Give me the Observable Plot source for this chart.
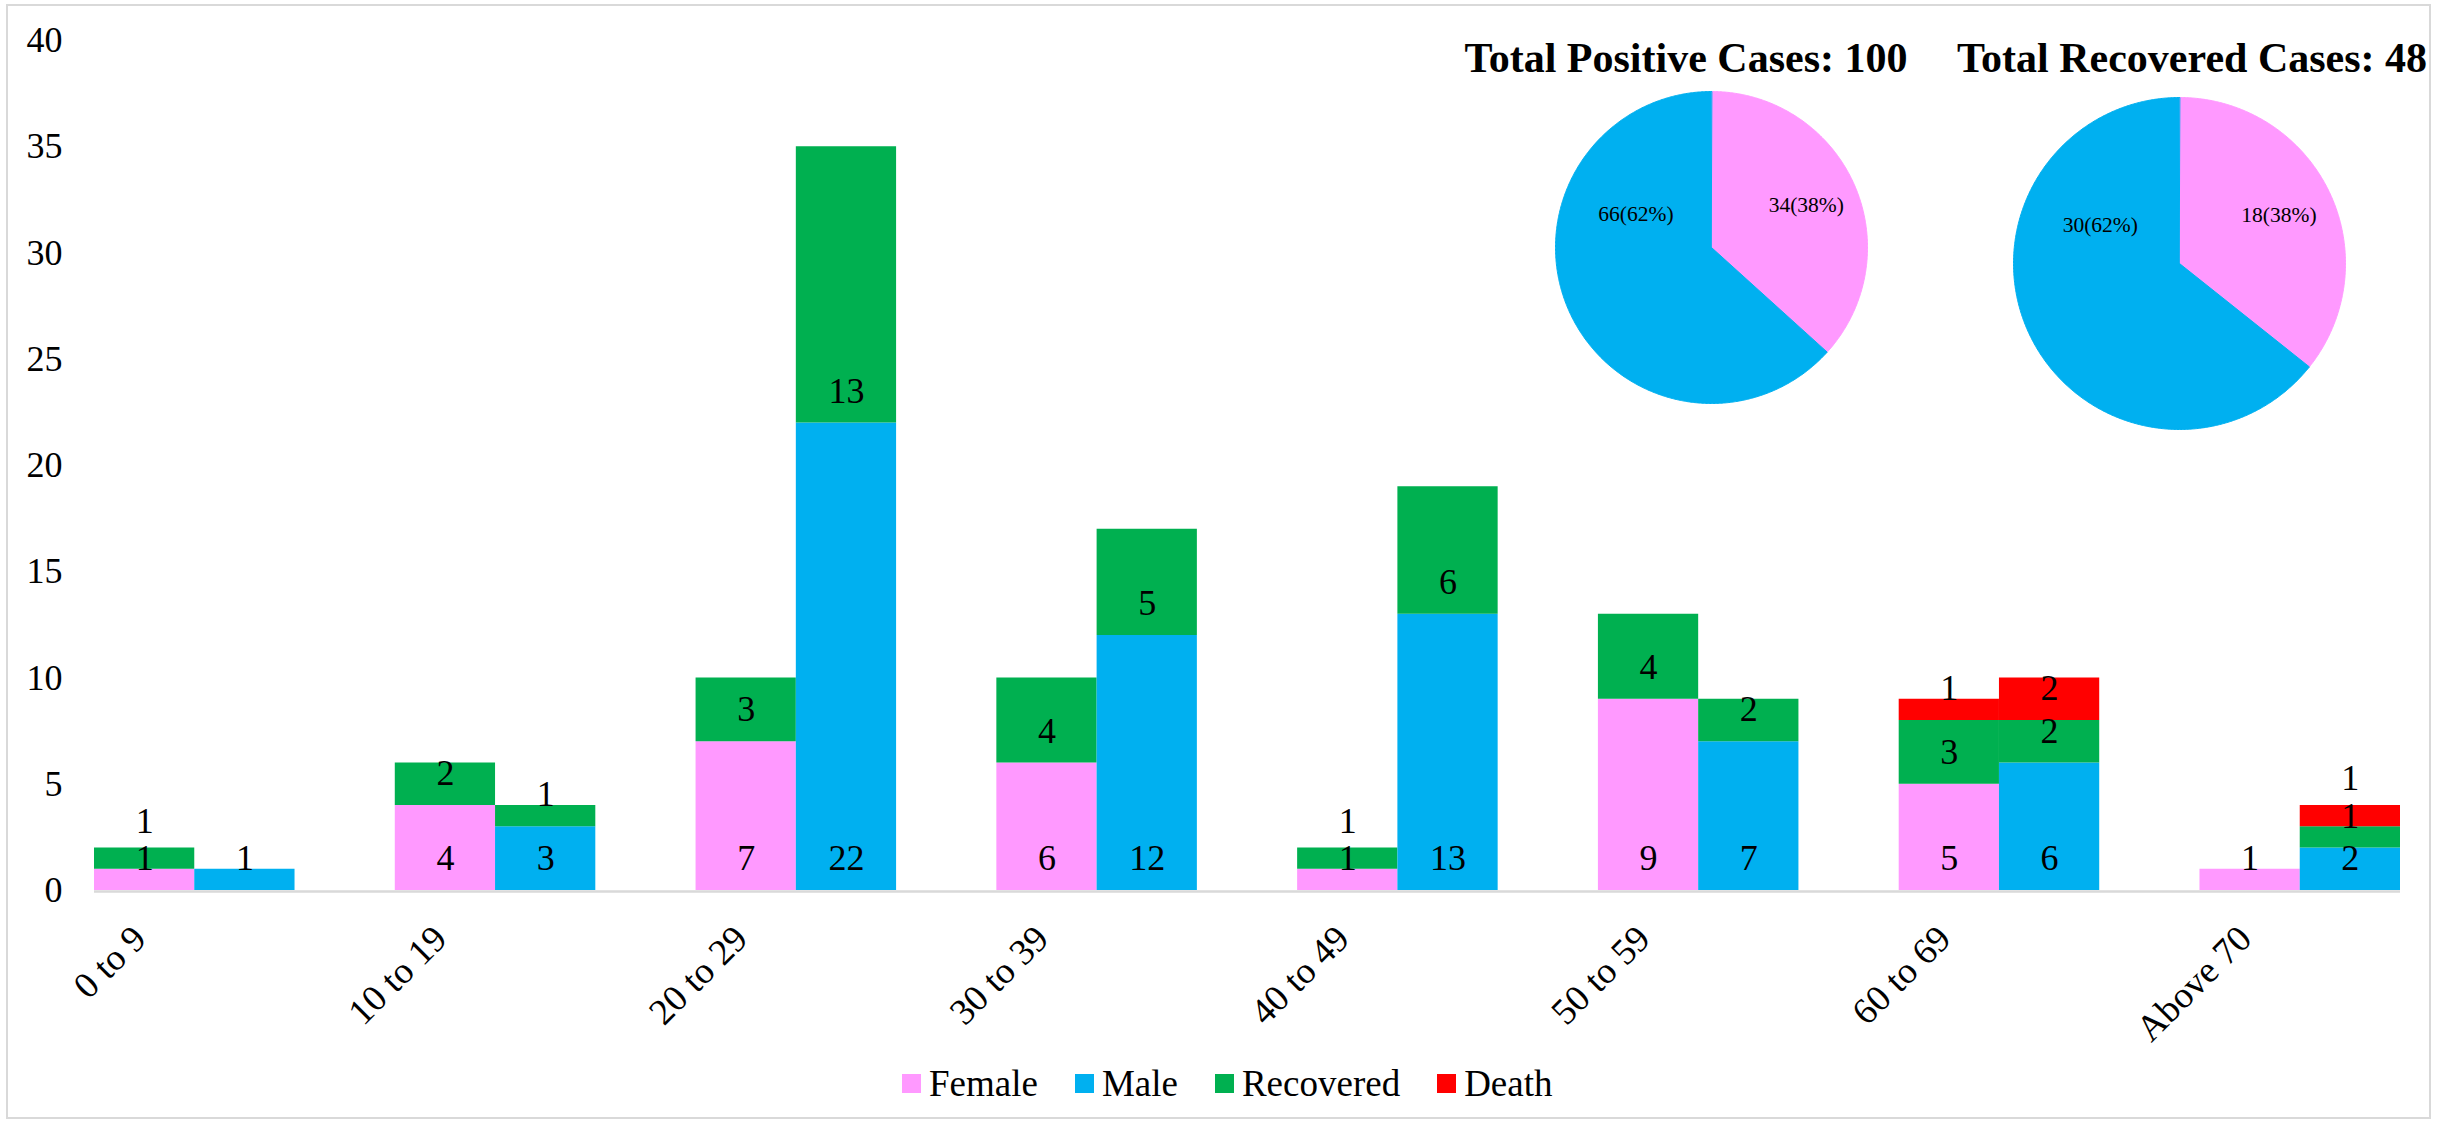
<!DOCTYPE html>
<html><head><meta charset="utf-8">
<script src="https://cdn.jsdelivr.net/npm/d3@7"></script>
<script src="https://cdn.jsdelivr.net/npm/@observablehq/plot@0.6"></script>
<style>
html,body{margin:0;padding:0;background:#fff;}
#chart{position:relative;width:2461px;height:1124px;background:#fff;overflow:hidden;}
#chart, #chart *{font-family:"Liberation Serif","Times New Roman",Times,serif !important;}
#chart > *{position:absolute;}
.ptitle{font-weight:bold;font-size:42px;line-height:42px;white-space:nowrap;transform:translateX(-50%);color:#000;}
.leg-swatches{font-size:37px !important;color:#000 !important;}
.leg-swatch{margin-right:37px !important;}
.leg-swatch > svg{margin-right:8px !important;}
#frame{left:6px;top:4px;width:2421px;height:1111px;border:2px solid #d9d9d9;pointer-events:none;background:transparent;}
</style></head><body><div id="chart"></div>
<script>
// ---- data ----
const ages = ["0 to 9","10 to 19","20 to 29","30 to 39","40 to 49","50 to 59","60 to 69","Above 70"];
const female          = [1, 4, 7, 6, 1, 9, 5, 1];
const male            = [1, 3, 22, 12, 13, 7, 6, 2];
const femaleRecovered = [1, 2, 3, 4, 1, 4, 3, 0];
const maleRecovered   = [0, 1, 13, 5, 6, 2, 2, 1];
const femaleDeath     = [0, 0, 0, 0, 0, 0, 1, 0];
const maleDeath       = [0, 0, 0, 0, 0, 0, 2, 1];
const yTicks = [0, 5, 10, 15, 20, 25, 30, 35, 40];
const types = ["Female", "Male", "Recovered", "Death"];
const typeColors = ["#FF99FF", "#00B0F0", "#00B050", "#FF0000"];

const pieSexes = ["Female", "Male"];
const positiveCounts = [34, 66];
const positivePct = [38, 62];
const positiveShare = [36.7, 63.3];   // slice sizes as drawn
const recoveredCounts = [18, 30];
const recoveredPct = [38, 62];
const recoveredShare = [35.7, 64.3];  // slice sizes as drawn
const pieTitles = ["Total Positive Cases: 100", "Total Recovered Cases: 48"];

// ---- layout ----
const FONT = '"Liberation Serif","Times New Roman",Times,serif';
const W = 2461, H = 1030, mL = 94, mR = 61, mT = 40, mB = 140;
const padInner = 1 / 3;
const step = (W - mL - mR) / (ages.length - padInner);
const half = step * (1 - padInner) / 2;

function stackRows(sex, base, rec, death) {
  const rows = [];
  ages.forEach((age, i) => {
    const segs = [[sex, base[i]], ["Recovered", rec[i]], ["Death", death[i]]].filter(s => s[1] > 0);
    let cum = 0, prev = -Infinity;
    segs.forEach(([type, v]) => {
      const pos = Math.max(cum, prev + 1.75);
      rows.push({age, sex, type, value: v, labelY: pos});
      prev = pos; cum += v;
    });
  });
  return rows;
}
const fRows = stackRows("Female", female, femaleRecovered, femaleDeath);
const mRows = stackRows("Male", male, maleRecovered, maleDeath);

const chart = document.getElementById("chart");

const main = Plot.plot({
  width: W, height: H, marginLeft: mL, marginRight: mR, marginTop: mT, marginBottom: mB,
  style: {fontFamily: FONT, fontSize: "36px", color: "#000", background: "transparent", overflow: "visible"},
  x: {domain: ages, paddingInner: padInner, paddingOuter: 0, round: false, label: null},
  y: {domain: [0, 40], label: null},
  color: {domain: types, range: typeColors},
  marks: [
    Plot.ruleY([0], {stroke: "#d9d9d9", strokeWidth: 2.5, dy: 1}),
    Plot.barY(fRows, {x: "age", y: "value", fill: "type", order: types, insetLeft: 0, insetRight: half}),
    Plot.barY(mRows, {x: "age", y: "value", fill: "type", order: types, insetLeft: half, insetRight: 0}),
    Plot.text(fRows, {x: "age", y: "labelY", text: d => String(d.value), dx: -half / 2, dy: -32, fontSize: 36, fill: "#000", lineAnchor: "middle"}),
    Plot.text(mRows, {x: "age", y: "labelY", text: d => String(d.value), dx: half / 2, dy: -32, fontSize: 36, fill: "#000", lineAnchor: "middle"}),
    Plot.axisY({ticks: yTicks, tickSize: 0, tickPadding: 32, fontSize: 36, label: null}),
    Plot.axisX({tickRotate: -45, tickSize: 0, tickPadding: 0, dx: -55, dy: 42, fontSize: 37, label: null})
  ]
});
main.style.left = "0px"; main.style.top = "0px";
chart.appendChild(main);

function pie(counts, pct, share, r) {
  const total = d3.sum(share);
  let a = 0;
  const pts = [];
  share.forEach((s, i) => {
    const a0 = a, a1 = a + s / total * 2 * Math.PI; a = a1;
    const sex = pieSexes[i];
    pts.push({sex, x: 0, y: 0});
    const n = Math.max(2, Math.ceil((a1 - a0) / (Math.PI / 360)));
    for (let k = 0; k <= n; k++) {
      const t = a0 + (a1 - a0) * k / n;
      pts.push({sex, x: Math.sin(t), y: Math.cos(t)});
    }
  });
  const fMid = share[0] / total * Math.PI;
  const labels = [
    {x: 0.665 * Math.sin(fMid), y: 0.665 * Math.cos(fMid), text: `${counts[0]}(${pct[0]}%)`},
    {x: 0.53 * Math.sin(-fMid), y: 0.53 * Math.cos(-fMid), text: `${counts[1]}(${pct[1]}%)`}
  ];
  return Plot.plot({
    width: 2 * r, height: 2 * r, margin: 0,
    x: {domain: [-1, 1], axis: null}, y: {domain: [-1, 1], axis: null},
    color: {domain: types, range: typeColors},
    style: {background: "transparent", overflow: "visible", fontFamily: FONT},
    marks: [
      Plot.line(pts, {x: "x", y: "y", z: "sex", fill: "sex", stroke: "sex", strokeWidth: 1, curve: "linear-closed"}),
      Plot.text(labels, {x: "x", y: "y", text: "text", fontSize: 21.5, fill: "#000", lineAnchor: "middle"})
    ]
  });
}

const pies = [
  {counts: positiveCounts, pct: positivePct, share: positiveShare, cx: 1710.5, cy: 247, r: 156, tx: 1686},
  {counts: recoveredCounts, pct: recoveredPct, share: recoveredShare, cx: 2179, cy: 263, r: 166, tx: 2192}
];
pies.forEach((p, i) => {
  const svg = pie(p.counts, p.pct, p.share, p.r);
  svg.style.left = (p.cx - p.r) + "px"; svg.style.top = (p.cy - p.r) + "px";
  chart.appendChild(svg);
  const t = document.createElement("div");
  t.className = "ptitle"; t.textContent = pieTitles[i];
  t.style.left = p.tx + "px"; t.style.top = "37px";
  chart.appendChild(t);
});

const leg = Plot.legend({color: {domain: types, range: typeColors}, legend: "swatches", swatchSize: 19, className: "leg",
  style: {fontSize: "37px", fontFamily: FONT, color: "#000"}});
leg.style.left = "902px"; leg.style.top = "1062px"; leg.style.margin = "0";
chart.appendChild(leg);

const frame = document.createElement("div");
frame.id = "frame";
chart.appendChild(frame);
</script></body></html>
